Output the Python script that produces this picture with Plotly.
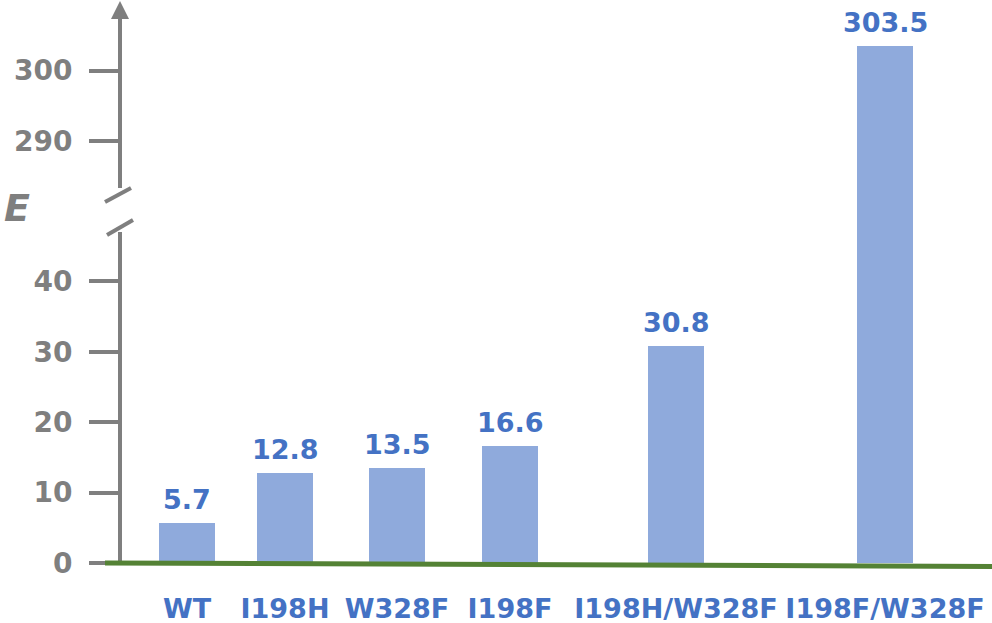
"""Enzyme efficiency E of wild type and mutants, bar chart with a broken y axis."""

import plotly.graph_objects as go

# data
variants = ["WT", "I198H", "W328F", "I198F", "I198H/W328F", "I198F/W328F"]
e_values = [5.7, 12.8, 13.5, 16.6, 30.8, 303.5]
lower_ticks = [0, 10, 20, 30, 40]
upper_ticks = [290, 300]

# layout geometry (pixels in a 992x623 page)
WIDTH, HEIGHT = 992, 623
LEFT, BOTTOM = 120, 57
PLOT_W = WIDTH - LEFT
PLOT_H = HEIGHT - BOTTOM
ZERO_PX = 563          # pixel row of value 0
PX_PER_UNIT = 7.04
BREAK_PX = 212         # where the lower panel meets the upper one
UPPER_REF_VALUE, UPPER_REF_PX = 290, 141
bar_centers = [187, 285, 397, 510, 676, 885]
bar_width = 56

GRAY = "#7f7f7f"
BLUE = "#4472C4"
BAR = "#8FAADC"
GREEN = "#548235"
FONT = "DejaVu Sans"


def px_x(px):
    return (px - LEFT) / PLOT_W


def px_y(px):
    return (PLOT_H - px) / PLOT_H


split = px_y(BREAK_PX)
lower_range = [(ZERO_PX - PLOT_H) / PX_PER_UNIT, (ZERO_PX - BREAK_PX) / PX_PER_UNIT]
upper_range = [
    UPPER_REF_VALUE - (BREAK_PX - UPPER_REF_PX) / PX_PER_UNIT,
    UPPER_REF_VALUE + UPPER_REF_PX / PX_PER_UNIT,
]

fig = go.Figure()
for axis in ("y", "y2"):
    fig.add_trace(
        go.Bar(
            x=bar_centers,
            y=e_values,
            width=bar_width,
            marker={"color": BAR, "line": {"width": 0}},
            xaxis="x",
            yaxis=axis,
            showlegend=False,
        )
    )

# value labels above the bars, on whichever panel shows the bar top
for xc, v in zip(bar_centers, e_values):
    fig.add_annotation(
        x=xc, y=v, xref="x", yref="y" if v < lower_range[1] else "y2",
        text=f"{v:.1f}", showarrow=False,
        xanchor="center", yanchor="bottom", yshift=6,
        font={"family": FONT, "size": 27, "color": BLUE, "weight": "bold"},
    )

y_common = dict(
    showgrid=False,
    zeroline=False,
    showline=False,
    automargin=False,
    ticks="outside",
    ticklen=30,
    tickwidth=4,
    tickcolor=GRAY,
    ticklabelstandoff=11,
    tickfont={"family": FONT, "size": 28, "color": GRAY, "weight": "bold"},
)

fig.update_layout(
    width=WIDTH,
    height=HEIGHT,
    margin={"l": LEFT, "r": 0, "t": 0, "b": BOTTOM, "autoexpand": False},
    paper_bgcolor="white",
    plot_bgcolor="white",
    bargap=0,
    xaxis=dict(
        range=[LEFT, WIDTH],
        showgrid=False,
        zeroline=False,
        showline=False,
        automargin=False,
        ticks="",
        tickvals=bar_centers,
        ticktext=variants,
        ticklabelstandoff=24,
        tickfont={"family": FONT, "size": 27, "color": BLUE, "weight": "bold"},
        anchor="y",
    ),
    yaxis=dict(domain=[0, split], range=lower_range, tickvals=lower_ticks, anchor="x", **y_common),
    yaxis2=dict(domain=[split, 1], range=upper_range, tickvals=upper_ticks, anchor="x", **y_common),
)

# broken y axis line, break marks and arrow head
axis_line = {"color": GRAY, "width": 4}
fig.add_shape(type="line", xref="paper", yref="paper",
              x0=0, x1=0, y0=px_y(188), y1=px_y(16), line=axis_line)
fig.add_shape(type="line", xref="paper", yref="paper",
              x0=0, x1=0, y0=px_y(ZERO_PX), y1=px_y(232), line=axis_line)
fig.add_shape(type="line", xref="paper", yref="paper",
              x0=px_x(105), x1=px_x(131), y0=px_y(202), y1=px_y(188), line=axis_line)
fig.add_shape(type="line", xref="paper", yref="paper",
              x0=px_x(107), x1=px_x(133), y0=px_y(235), y1=px_y(220), line=axis_line)
fig.add_shape(
    type="path", xref="paper", yref="paper",
    path=(f"M {px_x(111)},{px_y(19)} L {px_x(120)},{px_y(1)} "
          f"L {px_x(129)},{px_y(19)} Z"),
    fillcolor=GRAY, line={"width": 0},
)

# green baseline
fig.add_shape(type="line", xref="paper", yref="paper",
              x0=px_x(105), x1=px_x(992), y0=px_y(563), y1=px_y(566.5),
              line={"color": GREEN, "width": 5})

fig.add_annotation(
    text="E", xref="paper", yref="paper",
    x=px_x(17), y=px_y(208), xanchor="center", yanchor="middle",
    showarrow=False,
    font={"family": FONT, "size": 38, "color": GRAY, "weight": "bold", "style": "italic"},
)

# drop the default page margin so the figure sits at the window corner
fig.write_html(
    "out.html",
    config={"displayModeBar": False},
    post_script="document.body.style.margin = '0';",
)
